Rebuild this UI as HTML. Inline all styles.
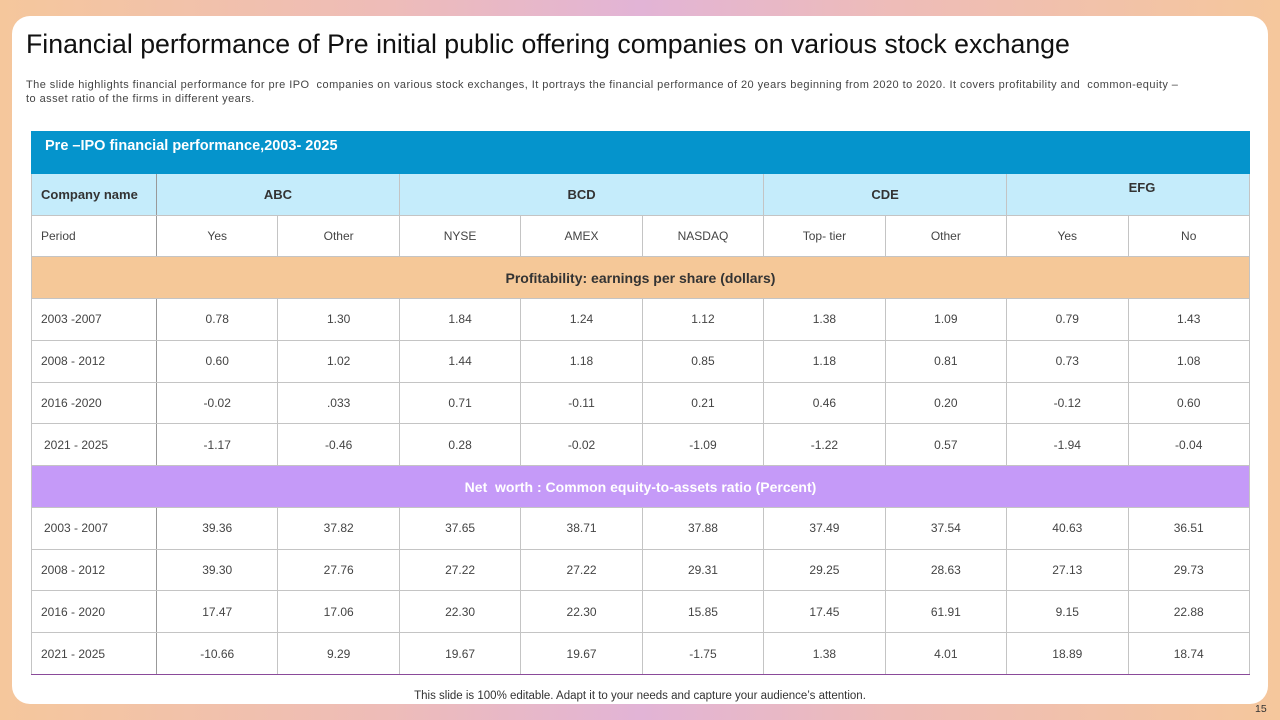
<!DOCTYPE html>
<html><head><meta charset="utf-8">
<style>
*{margin:0;padding:0;box-sizing:border-box}
body{width:1280px;height:720px;overflow:hidden;font-family:"Liberation Sans",sans-serif;
background:linear-gradient(90deg,#f5c79c 0%,#eebcb8 30%,#e2b4d6 50%,#eebcb8 70%,#f5c79c 100%);position:relative}
#card{position:absolute;left:12px;top:16px;width:1256px;height:688px;background:#fff;border-radius:18px}
#title{position:absolute;left:26px;top:29px;font-size:26.7px;color:#111;white-space:nowrap}
#desc{position:absolute;left:26px;top:78px;width:1200px;font-size:11px;line-height:14px;color:#444;white-space:nowrap;letter-spacing:0.45px}
table{position:absolute;left:31px;top:131px;width:1218px;border-collapse:collapse;table-layout:fixed;font-size:12px;color:#444}
td{height:41.77px;border:1px solid #c4c4c4;text-align:center;vertical-align:middle;padding:0}
td.l{text-align:left;padding-left:9px}
tr.t td{background:#0594cc;color:#fff;font-weight:bold;font-size:14.5px;text-align:left;padding-left:13px;vertical-align:top;padding-top:6px;border-color:#0594cc}
tr.h td{background:#c5ecfb;font-weight:bold;font-size:13px;color:#333}
tr.p td{background:#f5c898;font-weight:bold;font-size:14px;color:#333}
tr.n td{background:#c59af8;font-weight:bold;font-size:14px;color:#fff}
tr.last td{border-bottom:1px solid #8a4a9a}
td.fc{border-right:1px solid #999}
#foot{position:absolute;left:0;width:1280px;top:690px;text-align:center;font-size:11.5px;color:#333}
#pg{position:absolute;left:1255px;top:703px;font-size:10.5px;color:#333}
</style></head><body>
<div id="card"></div>
<div id="title">Financial performance of Pre initial public offering companies on various stock exchange</div>
<div id="desc">The slide highlights financial performance for pre IPO &nbsp;companies on various stock exchanges, It portrays the financial performance of 20 years beginning from 2020 to 2020. It covers profitability and &nbsp;common-equity –<br>to asset ratio of the firms in different years.</div>
<table>
<colgroup><col style="width:125px"><col span="9" style="width:121.44px"></colgroup>
<tr class="t"><td colspan="10">Pre –IPO financial performance,2003- 2025</td></tr>
<tr class="h"><td class="l fc">Company name</td><td colspan="2">ABC</td><td colspan="3">BCD</td><td colspan="2">CDE</td><td colspan="2" style="vertical-align:top;padding-top:6px;padding-left:28px">EFG</td></tr>
<tr><td class="l fc">Period</td><td>Yes</td><td>Other</td><td>NYSE</td><td>AMEX</td><td>NASDAQ</td><td>Top- tier</td><td>Other</td><td>Yes</td><td>No</td></tr>
<tr class="p"><td colspan="10">Profitability: earnings per share (dollars)</td></tr>
<tr><td class="l fc">2003 -2007</td><td>0.78</td><td>1.30</td><td>1.84</td><td>1.24</td><td>1.12</td><td>1.38</td><td>1.09</td><td>0.79</td><td>1.43</td></tr>
<tr><td class="l fc">2008 - 2012</td><td>0.60</td><td>1.02</td><td>1.44</td><td>1.18</td><td>0.85</td><td>1.18</td><td>0.81</td><td>0.73</td><td>1.08</td></tr>
<tr><td class="l fc">2016 -2020</td><td>-0.02</td><td>.033</td><td>0.71</td><td>-0.11</td><td>0.21</td><td>0.46</td><td>0.20</td><td>-0.12</td><td>0.60</td></tr>
<tr><td class="l fc" style="padding-left:12px">2021 - 2025</td><td>-1.17</td><td>-0.46</td><td>0.28</td><td>-0.02</td><td>-1.09</td><td>-1.22</td><td>0.57</td><td>-1.94</td><td>-0.04</td></tr>
<tr class="n"><td colspan="10">Net &nbsp;worth : Common equity-to-assets ratio (Percent)</td></tr>
<tr><td class="l fc" style="padding-left:12px">2003 - 2007</td><td>39.36</td><td>37.82</td><td>37.65</td><td>38.71</td><td>37.88</td><td>37.49</td><td>37.54</td><td>40.63</td><td>36.51</td></tr>
<tr><td class="l fc">2008 - 2012</td><td>39.30</td><td>27.76</td><td>27.22</td><td>27.22</td><td>29.31</td><td>29.25</td><td>28.63</td><td>27.13</td><td>29.73</td></tr>
<tr><td class="l fc">2016 - 2020</td><td>17.47</td><td>17.06</td><td>22.30</td><td>22.30</td><td>15.85</td><td>17.45</td><td>61.91</td><td>9.15</td><td>22.88</td></tr>
<tr class="last"><td class="l fc">2021 - 2025</td><td>-10.66</td><td>9.29</td><td>19.67</td><td>19.67</td><td>-1.75</td><td>1.38</td><td>4.01</td><td>18.89</td><td>18.74</td></tr>
</table>
<div id="foot">This slide is 100% editable. Adapt it to your needs and capture your audience’s attention.</div>
<div id="pg">15</div>
</body></html>
